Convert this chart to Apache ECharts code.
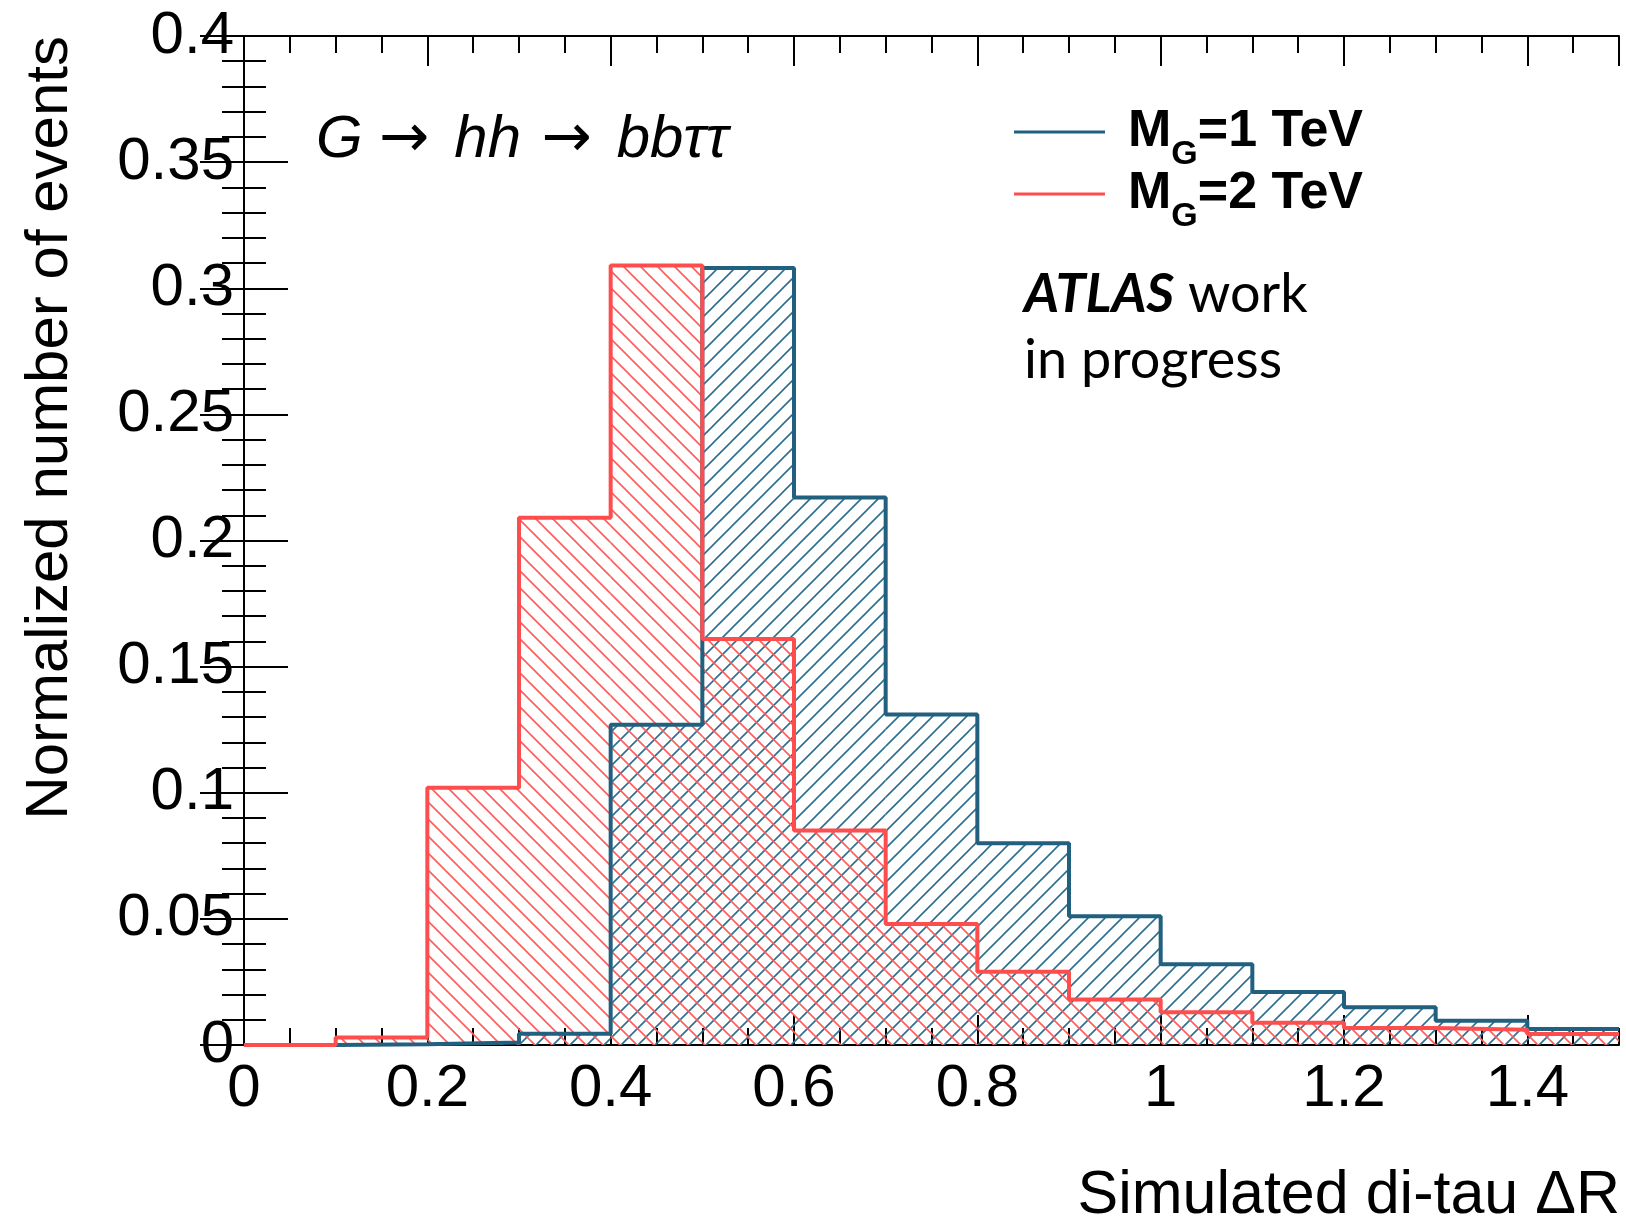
<!DOCTYPE html>
<html>
<head>
<meta charset="utf-8">
<script src="https://cdn.jsdelivr.net/npm/echarts@6/dist/echarts.min.js"></script>
<style>
html,body{margin:0;padding:0;background:#fff;}
#chart{width:1626px;height:1220px;}
</style>
</head>
<body>
<div id="chart"></div>
<script>
// ---- data ----
const BIN_EDGES = [0, 0.1, 0.2, 0.3, 0.4, 0.5, 0.6, 0.7, 0.8, 0.9, 1.0, 1.1, 1.2, 1.3, 1.4, 1.5];
// M_G = 1 TeV (blue); first bin not filled
const MG1_VALUES = [null, 0.0003, 0.001, 0.0045, 0.127, 0.308, 0.217, 0.131, 0.080, 0.051, 0.032, 0.021, 0.015, 0.0096, 0.0063];
// M_G = 2 TeV (red)
const MG2_VALUES = [0, 0.003, 0.102, 0.209, 0.309, 0.161, 0.085, 0.048, 0.029, 0.018, 0.013, 0.0088, 0.0067, 0.006, 0.0044];
const SERIES_NAMES = ['MG1', 'MG2'];
const LEGEND_LABELS = {MG1: '{m|M}{s|G}{m|=1 TeV}', MG2: '{m|M}{s|G}{m|=2 TeV}'};
const X_TITLE = 'Simulated di-tau \u0394R';
const Y_TITLE = 'Normalized number of events';
const PROCESS_TEXT = '{t|G }{a|\u2192}{t| hh }{b|\u2192}{t| bb\u03c4\u03c4}';

const BLUE = '#21607f';
const BLUE_HATCH = '#2d6f90';
const RED = '#ff4d4d';
const RED_HATCH = '#ff5c5c';

function makeHatch(color, forward) {
  const p = 17;
  const c = document.createElement('canvas');
  c.width = p; c.height = p;
  const ctx = c.getContext('2d');
  ctx.strokeStyle = color;
  ctx.lineWidth = 1.6;
  ctx.beginPath();
  if (forward) {
    [0, p, 2 * p].forEach(k => { ctx.moveTo(k + 2, -2); ctx.lineTo(-2, k + 2); });
  } else {
    [-p, 0, p].forEach(k => { ctx.moveTo(-2, -2 - k); ctx.lineTo(p + 2, p + 2 - k); });
  }
  ctx.stroke();
  return {image: c, repeat: 'repeat'};
}

function binData(values) {
  const out = [];
  values.forEach((v, i) => { if (v !== null) out.push([BIN_EDGES[i], BIN_EDGES[i + 1], v]); });
  return out;
}
function outlineData(values) {
  const out = [];
  let first = values.findIndex(v => v !== null);
  out.push([BIN_EDGES[first], 0]);
  for (let i = first; i < values.length; i++) out.push([BIN_EDGES[i], values[i]]);
  out.push([BIN_EDGES[values.length], values[values.length - 1]]);
  return out;
}

function hatchSeries(values, pattern) {
  return {
    type: 'custom',
    xAxisIndex: 0, yAxisIndex: 0,
    silent: true,
    encode: {x: [0, 1], y: 2},
    data: binData(values),
    renderItem: function (params, api) {
      const p0 = api.coord([api.value(0), api.value(2)]);
      const p1 = api.coord([api.value(1), 0]);
      return {
        type: 'rect',
        shape: {x: p0[0], y: p0[1], width: p1[0] - p0[0], height: p1[1] - p0[1]},
        style: {fill: pattern, stroke: null}
      };
    },
    z: 1
  };
}
function outlineSeries(name, values, color) {
  return {
    name: name,
    type: 'line',
    step: 'end',
    xAxisIndex: 0, yAxisIndex: 0,
    symbol: 'none',
    data: outlineData(values),
    lineStyle: {color: color, width: 4},
    itemStyle: {color: color},
    clip: true,
    z: 3
  };
}

const FONT = 'Liberation Sans, Arial, sans-serif';
const tickStyle = {color: '#000', width: 2};

const chart = echarts.init(document.getElementById('chart'), null, {renderer: 'canvas'});
const legendCommon = {
  orient: 'vertical', left: 1014, padding: 0,
  icon: 'rect', itemWidth: 91, itemHeight: 3,
  selectedMode: false,
  formatter: name => LEGEND_LABELS[name],
  textStyle: {
    padding: [0, 0, 0, 18],
    rich: {
      m: {fontSize: 52, fontWeight: 'bold', fontFamily: FONT, color: '#000', lineHeight: 80},
      s: {fontSize: 34, fontWeight: 'bold', fontFamily: FONT, color: '#000', lineHeight: 34, verticalAlign: 'bottom'}
    }
  }
};

chart.setOption({
  animation: false,
  backgroundColor: '#fff',
  textStyle: {fontFamily: FONT},
  grid: {left: 244, right: 7, top: 36, bottom: 175, containLabel: false},
  legend: [
    Object.assign({data: [SERIES_NAMES[0]], top: 106}, legendCommon),
    Object.assign({data: [SERIES_NAMES[1]], top: 168}, legendCommon)
  ],
  xAxis: [
    {type: 'value', min: 0, max: 1.5, interval: 0.2, position: 'bottom',
      axisLine: {show: true, lineStyle: tickStyle},
      axisTick: {show: true, inside: true, length: 30, lineStyle: tickStyle},
      axisLabel: {fontSize: 60, color: '#000', margin: 14, showMaxLabel: false, fontFamily: FONT},
      splitLine: {show: false}},
    {type: 'value', min: 0, max: 1.5, interval: 0.05, position: 'bottom',
      axisLine: {show: false},
      axisTick: {show: true, inside: true, length: 17, lineStyle: tickStyle},
      axisLabel: {show: false}, splitLine: {show: false}},
    {type: 'value', min: 0, max: 1.5, interval: 0.2, position: 'top',
      axisLine: {show: true, lineStyle: tickStyle},
      axisTick: {show: true, inside: true, length: 30, lineStyle: tickStyle},
      axisLabel: {show: false}, splitLine: {show: false}},
    {type: 'value', min: 0, max: 1.5, interval: 0.05, position: 'top',
      axisLine: {show: false},
      axisTick: {show: true, inside: true, length: 17, lineStyle: tickStyle},
      axisLabel: {show: false}, splitLine: {show: false}}
  ],
  yAxis: [
    {type: 'value', min: 0, max: 0.4, interval: 0.05, position: 'left',
      axisLine: {show: true, lineStyle: tickStyle},
      axisTick: {show: true, inside: true, length: 44, lineStyle: tickStyle},
      minorTick: {show: true, splitNumber: 5, length: 22, lineStyle: tickStyle},
      axisLabel: {fontSize: 60, color: '#000', margin: 10, fontFamily: FONT},
      splitLine: {show: false}, minorSplitLine: {show: false}},
    {type: 'value', min: 0, max: 0.4, interval: 0.05, position: 'right',
      axisLine: {show: true, lineStyle: tickStyle},
      axisTick: {show: true, inside: true, length: 44, lineStyle: tickStyle},
      minorTick: {show: true, splitNumber: 5, length: 22, lineStyle: tickStyle},
      axisLabel: {show: false},
      splitLine: {show: false}, minorSplitLine: {show: false}}
  ],
  graphic: [
    {type: 'text', x: 50, y: 36, rotation: Math.PI / 2, silent: true,
      style: {text: Y_TITLE, font: '60px ' + FONT, fill: '#000', align: 'right', verticalAlign: 'middle', textAlign: 'right', textVerticalAlign: 'middle'}},
    {type: 'text', x: 1620, y: 1196, silent: true,
      style: {text: X_TITLE, font: '61px ' + FONT, fill: '#000', align: 'right', verticalAlign: 'middle', textAlign: 'right', textVerticalAlign: 'middle'}},
    {type: 'text', x: 316, y: 110, silent: true,
      style: {text: PROCESS_TEXT, fill: '#000', align: 'left', verticalAlign: 'top',
        rich: {
          t: {font: 'italic 60px ' + FONT, fill: '#000', lineHeight: 60},
          a: {font: '60px DejaVu Sans, sans-serif', fill: '#000', lineHeight: 60, padding: [0, 8, 0, 0]},
          b: {font: '60px DejaVu Sans, sans-serif', fill: '#000', lineHeight: 60, padding: [0, 8, 0, 4]}
        }}},
    {type: 'text', x: 1024, y: 262, silent: true,
      style: {text: '{b|ATLAS}{n| work}\n{n|in progress}', fill: '#000', align: 'left', verticalAlign: 'top',
        rich: {
          b: {font: 'italic bold 54px Lato, sans-serif', fill: '#000', lineHeight: 66},
          n: {font: '54px Lato, sans-serif', fill: '#000', lineHeight: 66}
        }}}
  ],
  series: [
    hatchSeries(MG1_VALUES, makeHatch(BLUE_HATCH, true)),
    hatchSeries(MG2_VALUES, makeHatch(RED_HATCH, false)),
    outlineSeries(SERIES_NAMES[0], MG1_VALUES, BLUE),
    outlineSeries(SERIES_NAMES[1], MG2_VALUES, RED)
  ]
});
</script>
</body>
</html>
